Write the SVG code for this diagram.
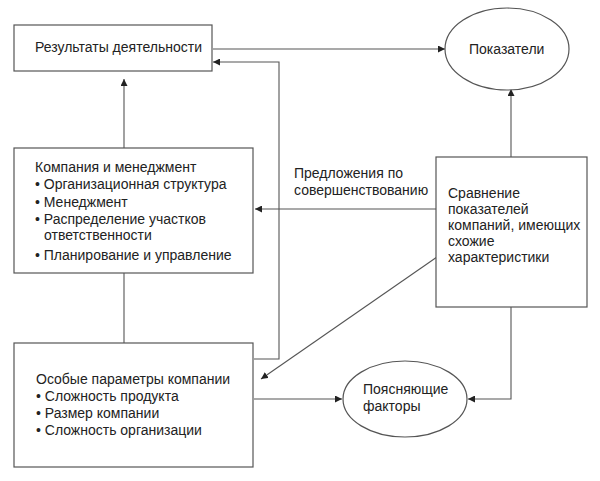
<svg xmlns="http://www.w3.org/2000/svg" width="600" height="481" viewBox="0 0 600 481">
<defs>
<marker id="ah" viewBox="0 0 10 10" refX="10" refY="5" markerWidth="7" markerHeight="7" orient="auto" markerUnits="userSpaceOnUse"><path d="M0,0 L10,5 L0,10 z" fill="#222"/></marker>
<style>
.n{fill:#fff;stroke:#555;stroke-width:1.2}
.c{fill:none;stroke:#555;stroke-width:1.1}
text{font-family:"Liberation Sans",Arial,sans-serif;font-size:14px;fill:#222}
</style>
</defs>
<rect width="600" height="481" fill="#fff"/>
<g id="connectors">
<line class="c" x1="213" y1="49" x2="445" y2="49" marker-end="url(#ah)"/>
<polyline class="c" points="254,359 279,359 279,62 213,62" marker-end="url(#ah)"/>
<line class="c" x1="124" y1="148" x2="124" y2="79" marker-end="url(#ah)"/>
<line class="c" x1="124" y1="273" x2="124" y2="343"/>
<line class="c" x1="511" y1="157" x2="511" y2="89" marker-end="url(#ah)"/>
<line class="c" x1="436" y1="209" x2="255" y2="209" marker-end="url(#ah)"/>
<line class="c" x1="437" y1="257" x2="261" y2="379" marker-end="url(#ah)"/>
<line class="c" x1="254" y1="399" x2="342" y2="399" marker-end="url(#ah)"/>
<polyline class="c" points="511,307 511,399 468,399" marker-end="url(#ah)"/>
<text x="294" y="178">Предложения по</text>
<text x="294" y="195">совершенствованию</text>
</g>
<g id="results"><rect class="n" x="14" y="25" width="198" height="46"/><text x="35" y="52">Результаты деятельности</text></g>
<g id="indicators"><ellipse class="n" cx="507" cy="49" rx="62" ry="41"/><text x="469" y="54">Показатели</text></g>
<g id="company"><rect class="n" x="14" y="148" width="239" height="125"/>
<text x="35" y="172">Компания и менеджмент</text>
<text x="35" y="189">• Организационная структура</text>
<text x="35" y="207">• Менеджмент</text>
<text x="35" y="224">• Распределение участков</text>
<text x="44" y="240">ответственности</text>
<text x="35" y="260">• Планирование и управление</text></g>
<g id="params"><rect class="n" x="14" y="343" width="239" height="124"/>
<text x="36" y="384">Особые параметры компании</text>
<text x="36" y="401">• Сложность продукта</text>
<text x="36" y="418">• Размер компании</text>
<text x="36" y="435">• Сложность организации</text></g>
<g id="comparison"><rect class="n" x="436" y="157" width="151" height="150"/>
<text x="448" y="198">Сравнение</text>
<text x="448" y="214">показателей</text>
<text x="448" y="230">компаний, имеющих</text>
<text x="448" y="246">схожие</text>
<text x="448" y="262">характеристики</text></g>
<g id="factors"><ellipse class="n" cx="405" cy="399" rx="62" ry="38"/>
<text x="363" y="394">Поясняющие</text>
<text x="363" y="411">факторы</text></g>
</svg>
